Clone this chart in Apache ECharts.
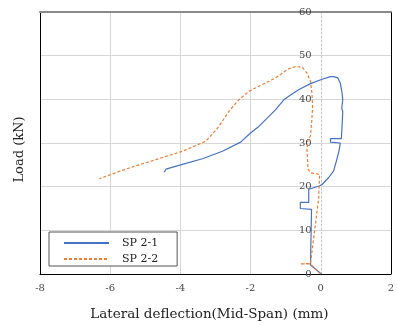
<!DOCTYPE html>
<html>
<head>
<meta charset="utf-8">
<script src="https://cdn.jsdelivr.net/npm/echarts@6/dist/echarts.min.js"></script>
<style>
  html, body { margin: 0; padding: 0; background: #fff; }
  #chart { width: 397px; height: 326px; }
</style>
</head>
<body>
<div id="chart"></div>
<script>
// Load vs. lateral deflection at mid-span, [deflection (mm), load (kN)]
const sp21 = [
  [0.02, 0], [-0.29, 2.05], [-0.26, 14.8], [-0.58, 15.0], [-0.58, 16.4],
  [-0.34, 16.4], [-0.34, 19.4], [-0.29, 19.8], [-0.06, 20.1], [0.04, 20.5],
  [0.23, 22.1], [0.37, 23.6], [0.46, 26.2], [0.53, 28.5], [0.56, 30.0],
  [0.28, 30.2], [0.28, 31.0], [0.59, 31.0], [0.61, 33.8], [0.63, 37.3],
  [0.60, 37.9], [0.63, 38.3], [0.63, 39.9], [0.61, 41.5], [0.56, 43.7],
  [0.49, 44.9], [0.37, 45.2], [0.28, 45.2], [0.04, 44.6], [-0.29, 43.6],
  [-0.63, 42.2], [-0.91, 40.7], [-1.05, 39.9], [-1.29, 37.6], [-1.76, 33.8],
  [-2.0, 32.3], [-2.28, 30.2], [-2.80, 28.1], [-3.37, 26.4], [-3.94, 25.1],
  [-4.41, 24.0], [-4.46, 23.3]
];
const sp22 = [
  [0, 0], [-0.29, 2.3], [-0.58, 2.3], [-0.29, 2.4], [-0.06, 17.1],
  [-0.03, 22.8], [-0.03, 23.2], [-0.29, 23.2], [-0.36, 24.0], [-0.39, 28.5],
  [-0.36, 30.8], [-0.29, 31.6], [-0.25, 35.4], [-0.23, 38.4], [-0.25, 41.5],
  [-0.29, 44.1], [-0.39, 46.0], [-0.53, 47.4], [-0.72, 47.5], [-0.91, 47.0],
  [-1.29, 44.9], [-1.76, 43.0], [-2.05, 41.8], [-2.33, 39.9], [-2.61, 37.3],
  [-2.90, 33.8], [-3.18, 31.2], [-3.28, 30.4], [-3.94, 28.1], [-4.70, 26.2],
  [-5.64, 23.8], [-6.31, 21.8]
];
const seriesNames = ['SP 2-1', 'SP 2-2'];
const xRange = [-8, 2, 2];   // min, max, step
const yRange = [0, 60, 10];

const serif = 'DejaVu Serif';
const gridColor = '#d6d6d6';
const W = 397, H = 326;
const gridBox = { left: 40, right: 5, top: 12, bottom: 51 };

// pixel offset that carries the load-value axis onto the zero-deflection line
const plotWidth = W - gridBox.left - gridBox.right;
const zeroOffset = -plotWidth * (0 - xRange[0]) / (xRange[1] - xRange[0]);

const chart = echarts.init(document.getElementById('chart'), null, { renderer: 'canvas' });

const tickLabel = { fontFamily: serif, fontSize: 10, color: '#444' };

chart.setOption({
  animation: false,
  backgroundColor: '#fff',
  grid: gridBox,
  legend: {
    data: seriesNames,
    orient: 'vertical',
    left: 49,
    top: 232,
    backgroundColor: '#fff',
    borderColor: '#555',
    borderWidth: 1,
    borderRadius: 0,
    padding: [5, 19, 1, 14],
    itemWidth: 45,
    itemHeight: 12,
    itemGap: 4,
    itemStyle: { opacity: 0 },
    textStyle: { fontFamily: serif, fontSize: 11, color: '#222', padding: [0, 0, 0, 8], lineHeight: 12 }
  },
  xAxis: [
    {
      type: 'value', min: xRange[0], max: xRange[1], interval: xRange[2],
      position: 'bottom',
      name: 'Lateral deflection(Mid-Span) (mm)',
      nameLocation: 'middle', nameGap: 33,
      nameTextStyle: { fontFamily: serif, fontSize: 13.5, color: '#222', padding: [0, 12, 0, 0] },
      axisLine: { onZero: false, lineStyle: { color: '#000', width: 1 } },
      axisTick: { show: false },
      axisLabel: Object.assign({ margin: 9 }, tickLabel),
      splitLine: { show: true, lineStyle: { width: 1, color: [gridColor, gridColor, gridColor, gridColor, 'rgba(0,0,0,0)', gridColor] } }
    },
    {
      type: 'value', min: xRange[0], max: xRange[1], interval: xRange[2],
      position: 'top',
      axisLine: { onZero: false, lineStyle: { color: '#8a8a8a', width: 2 } },
      axisTick: { show: false }, axisLabel: { show: false }, splitLine: { show: false }
    }
  ],
  yAxis: [
    {
      // load axis drawn along the zero-deflection line
      type: 'value', min: yRange[0], max: yRange[1], interval: yRange[2],
      position: 'left',
      offset: zeroOffset,
      axisLine: { show: true, onZero: false, lineStyle: { color: '#c4c4c4', width: 1, type: [2, 2] } },
      axisTick: { show: false },
      axisLabel: Object.assign({ margin: 10 }, tickLabel),
      splitLine: { show: true, lineStyle: { color: gridColor, width: 1 } }
    },
    {
      type: 'value', min: yRange[0], max: yRange[1], interval: yRange[2],
      position: 'left',
      name: 'Load (kN)',
      nameLocation: 'middle', nameGap: 14,
      nameTextStyle: { fontFamily: serif, fontSize: 13, color: '#222', padding: [0, 13, 0, 0] },
      axisLine: { show: true, onZero: false, lineStyle: { color: '#000', width: 1 } },
      axisTick: { show: false }, axisLabel: { show: false }, splitLine: { show: false }
    },
    {
      type: 'value', min: yRange[0], max: yRange[1], interval: yRange[2],
      position: 'right',
      axisLine: { show: true, onZero: false, lineStyle: { color: '#000', width: 1 } },
      axisTick: { show: false }, axisLabel: { show: false }, splitLine: { show: false }
    }
  ],
  series: [
    {
      name: seriesNames[0], type: 'line', data: sp21,
      xAxisIndex: 0, yAxisIndex: 0,
      symbol: 'none', smooth: false,
      lineStyle: { color: '#4472C4', width: 1.2 },
      itemStyle: { color: '#4472C4' }
    },
    {
      name: seriesNames[1], type: 'line', data: sp22,
      xAxisIndex: 0, yAxisIndex: 0,
      symbol: 'none', smooth: false,
      lineStyle: { color: '#ED7D31', width: 1.2, type: [3, 2] },
      itemStyle: { color: '#ED7D31' }
    }
  ]
});
</script>
</body>
</html>
